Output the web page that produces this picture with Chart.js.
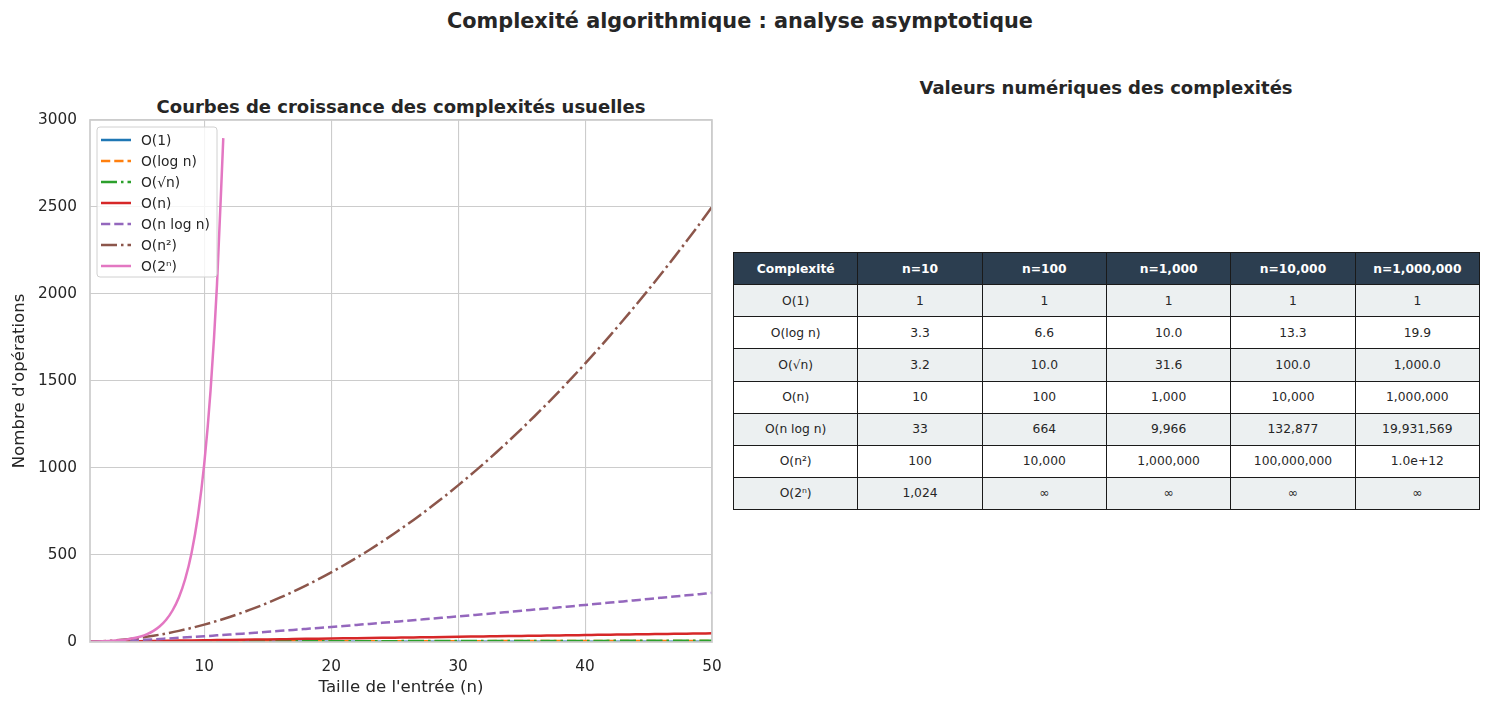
<!DOCTYPE html>
<html lang="fr">
<head>
<meta charset="utf-8">
<title>Complexité algorithmique</title>
<script src="https://cdn.jsdelivr.net/npm/chart.js@4.4.1/dist/chart.umd.min.js"></script>
<style>
  body {
    margin: 0;
    width: 1489px;
    height: 707px;
    background: #ffffff;
    font-family: "DejaVu Sans", sans-serif;
    color: #262626;
    position: relative;
    overflow: hidden;
  }
  .title {
    position: absolute;
    white-space: nowrap;
    font-weight: bold;
    transform: translate(-50%, -50%);
  }
  #main-title { left: 740px; top: 21px; font-size: 20.8px; }
  #left-title { left: 401px; top: 106px; font-size: 18px; }
  #right-title { left: 1106px; top: 87px; font-size: 18px; }
  #chart-box {
    position: absolute;
    left: 0;
    top: 0;
    width: 730px;
    height: 707px;
  }
  #table {
    position: absolute;
    left: 733px;
    top: 252px;
    width: 747px;
    height: 258px;
    border-collapse: collapse;
    table-layout: fixed;
    font-size: 12.3px;
    color: #262626;
  }
  #table th, #table td {
    border: 1.4px solid #1a1a1a;
    text-align: center;
    padding: 0;
    height: 31px;
  }
  #table th {
    background: #2c3e50;
    color: #ffffff;
    font-weight: bold;
  }
  #table tr:nth-child(even) td { background: #ecf0f1; }
  #table tr:nth-child(odd) td { background: #ffffff; }
</style>
</head>
<body>
<div id="main-title" class="title">Complexité algorithmique : analyse asymptotique</div>
<div id="left-title" class="title">Courbes de croissance des complexités usuelles</div>
<div id="right-title" class="title">Valeurs numériques des complexités</div>
<div id="chart-box"><canvas id="chart"></canvas></div>
<table id="table"></table>

<script>
// ---------------- Data ----------------
const nValues = [
  1, 2, 3, 4, 5, 6, 7, 8, 9, 10, 11, 12, 13, 14, 15, 16, 17, 18, 19, 20,
  21, 22, 23, 24, 25, 26, 27, 28, 29, 30, 31, 32, 33, 34, 35, 36, 37, 38, 39, 40,
  41, 42, 43, 44, 45, 46, 47, 48, 49, 50,
];

const constValues = [
  1, 1, 1, 1, 1, 1, 1, 1, 1, 1, 1, 1, 1, 1, 1, 1, 1, 1, 1, 1,
  1, 1, 1, 1, 1, 1, 1, 1, 1, 1, 1, 1, 1, 1, 1, 1, 1, 1, 1, 1,
  1, 1, 1, 1, 1, 1, 1, 1, 1, 1,
];

const logValues = [
  0, 1, 1.58, 2, 2.32, 2.58, 2.81, 3, 3.17, 3.32, 3.46, 3.58, 3.7, 3.81, 3.91,
  4, 4.09, 4.17, 4.25, 4.32, 4.39, 4.46, 4.52, 4.58, 4.64, 4.7, 4.75, 4.81,
  4.86, 4.91, 4.95, 5, 5.04, 5.09, 5.13, 5.17, 5.21, 5.25, 5.29, 5.32, 5.36,
  5.39, 5.43, 5.46, 5.49, 5.52, 5.55, 5.58, 5.61, 5.64,
];

const sqrtValues = [
  1, 1.41, 1.73, 2, 2.24, 2.45, 2.65, 2.83, 3, 3.16, 3.32, 3.46, 3.61, 3.74,
  3.87, 4, 4.12, 4.24, 4.36, 4.47, 4.58, 4.69, 4.8, 4.9, 5, 5.1, 5.2, 5.29,
  5.39, 5.48, 5.57, 5.66, 5.74, 5.83, 5.92, 6, 6.08, 6.16, 6.24, 6.32, 6.4,
  6.48, 6.56, 6.63, 6.71, 6.78, 6.86, 6.93, 7, 7.07,
];

const linearValues = [
  1, 2, 3, 4, 5, 6, 7, 8, 9, 10, 11, 12, 13, 14, 15, 16, 17, 18, 19, 20,
  21, 22, 23, 24, 25, 26, 27, 28, 29, 30, 31, 32, 33, 34, 35, 36, 37, 38, 39, 40,
  41, 42, 43, 44, 45, 46, 47, 48, 49, 50,
];

const nlognValues = [
  0, 2, 4.75, 8, 11.6, 15.5, 19.7, 24, 28.5, 33.2, 38.1, 43, 48.1, 53.3, 58.6,
  64, 69.5, 75.1, 80.7, 86.4, 92.2, 98.1, 104, 110, 116.1, 122.2, 128.4, 134.6,
  140.9, 147.2, 153.6, 160, 166.5, 173, 179.5, 186.1, 192.7, 199.4, 206.1,
  212.9, 219.7, 226.5, 233.3, 240.2, 247.1, 254.1, 261.1, 268.1, 275.1, 282.2,
];

const squareValues = [
  1, 4, 9, 16, 25, 36, 49, 64, 81, 100, 121, 144, 169, 196, 225, 256, 289, 324,
  361, 400, 441, 484, 529, 576, 625, 676, 729, 784, 841, 900, 961, 1024, 1089,
  1156, 1225, 1296, 1369, 1444, 1521, 1600, 1681, 1764, 1849, 1936, 2025, 2116,
  2209, 2304, 2401, 2500,
];

const expN = [
  1, 1.5, 2, 2.5, 3, 3.5, 4, 4.5, 5, 5.5, 6, 6.5, 7, 7.5, 8, 8.5, 9, 9.5,
  10, 10.5, 11, 11.5,
];
const expValues = [
  2, 2.83, 4, 5.66, 8, 11.3, 16, 22.6, 32, 45.3, 64, 90.5, 128, 181, 256, 362,
  512, 724, 1024, 1448, 2048, 2896,
];

const seriesLabels = [
  "O(1)", "O(log n)", "O(√n)", "O(n)", "O(n log n)", "O(n²)", "O(2ⁿ)",
];
const xTicks = [10, 20, 30, 40, 50];

// table
const tableHeaders = ["Complexité", "n=10", "n=100", "n=1,000", "n=10,000", "n=1,000,000"];
const tableRows = [
  ["O(1)", "1", "1", "1", "1", "1"],
  ["O(log n)", "3.3", "6.6", "10.0", "13.3", "19.9"],
  ["O(√n)", "3.2", "10.0", "31.6", "100.0", "1,000.0"],
  ["O(n)", "10", "100", "1,000", "10,000", "1,000,000"],
  ["O(n log n)", "33", "664", "9,966", "132,877", "19,931,569"],
  ["O(n²)", "100", "10,000", "1,000,000", "100,000,000", "1.0e+12"],
  ["O(2ⁿ)", "1,024", "∞", "∞", "∞", "∞"],
];

// ---------------- Chart ----------------
const toPoints = (xs, ys) => xs.map((x, i) => ({ x: x, y: ys[i] }));

const lineWidth = 2.5;
const dashed = [9.25, 4];
const dashDot = [16, 4, 2.5, 4];

const datasets = [
  { data: toPoints(nValues, constValues), borderColor: "#1f77b4", borderDash: [] },
  { data: toPoints(nValues, logValues), borderColor: "#ff7f0e", borderDash: dashed },
  { data: toPoints(nValues, sqrtValues), borderColor: "#2ca02c", borderDash: dashDot },
  { data: toPoints(nValues, linearValues), borderColor: "#d62728", borderDash: [] },
  { data: toPoints(nValues, nlognValues), borderColor: "#9467bd", borderDash: dashed },
  { data: toPoints(nValues, squareValues), borderColor: "#8c564b", borderDash: dashDot },
  { data: toPoints(expN, expValues), borderColor: "#e377c2", borderDash: [] },
].map((d, i) => ({
  ...d,
  label: seriesLabels[i],
  borderWidth: lineWidth,
  pointRadius: 0,
  fill: false,
  cubicInterpolationMode: "monotone",
  order: 6 - i, // last series on top, like the original
}));

// Legend box inside the plot + full frame
const framePlugin = {
  id: "frame",
  afterDraw(chart) {
    const { ctx, chartArea } = chart;
    ctx.save();
    ctx.strokeStyle = "#cccccc";
    ctx.lineWidth = 1.7;
    ctx.strokeRect(chartArea.left, chartArea.top,
      chartArea.right - chartArea.left, chartArea.bottom - chartArea.top);

    // legend
    const x = chartArea.left + 7;
    const y = chartArea.top + 7;
    const w = 120;
    const h = 150;
    ctx.beginPath();
    ctx.roundRect(x, y, w, h, 3);
    ctx.fillStyle = "rgba(255,255,255,0.8)";
    ctx.fill();
    ctx.lineWidth = 1;
    ctx.strokeStyle = "#d0d0d0";
    ctx.stroke();

    ctx.font = "13.8px 'DejaVu Sans'";
    ctx.textBaseline = "middle";
    chart.data.datasets.forEach((ds, i) => {
      const ly = y + 13 + i * 21;
      ctx.beginPath();
      ctx.setLineDash(ds.borderDash);
      ctx.strokeStyle = ds.borderColor;
      ctx.lineWidth = lineWidth;
      ctx.moveTo(x + 4, ly);
      ctx.lineTo(x + 34, ly);
      ctx.stroke();
      ctx.setLineDash([]);
      ctx.fillStyle = "#262626";
      ctx.fillText(ds.label, x + 44, ly + 1);
    });
    ctx.restore();
  },
};

Chart.defaults.font.family = "'DejaVu Sans', sans-serif";
Chart.defaults.color = "#262626";

new Chart(document.querySelector("#chart").getContext("2d"), {
  type: "line",
  data: { datasets: datasets },
  options: {
    responsive: true,
    maintainAspectRatio: false,
    animation: false,
    layout: { padding: { top: 120, right: 18, left: 0, bottom: 0 } },
    plugins: {
      legend: { display: false },
      tooltip: { enabled: false },
    },
    scales: {
      x: {
        type: "linear",
        min: 1,
        max: 50,
        afterBuildTicks: (scale) => {
          scale.ticks = xTicks.map((v) => ({ value: v }));
        },
        afterFit: (scale) => {
          scale.height = 65;
          scale.paddingLeft = 0;
          scale.paddingRight = 0;
        },
        grid: { color: "#cccccc", lineWidth: 1.1, drawTicks: false },
        border: { display: false },
        ticks: { font: { size: 15.3 }, padding: 16, color: "#262626" },
        title: {
          display: true,
          text: "Taille de l'entrée (n)",
          font: { size: 16.6 },
          color: "#262626",
          padding: { top: 0, bottom: 9 },
        },
      },
      y: {
        min: 0,
        max: 3000,
        afterFit: (scale) => {
          scale.width = 90;
          scale.paddingTop = 0;
          scale.paddingBottom = 0;
        },
        grid: { color: "#cccccc", lineWidth: 1.1, drawTicks: false },
        border: { display: false },
        ticks: {
          stepSize: 500,
          font: { size: 15.3 },
          padding: 13,
          color: "#262626",
          callback: (v) => String(v),
        },
        title: {
          display: true,
          text: "Nombre d'opérations",
          font: { size: 16.6 },
          color: "#262626",
          padding: { top: 10, bottom: 0 },
        },
      },
    },
  },
  plugins: [framePlugin],
});

// ---------------- Table ----------------
const table = document.querySelector("#table");
const headRow = document.createElement("tr");
tableHeaders.forEach((h) => {
  const th = document.createElement("th");
  th.textContent = h;
  headRow.appendChild(th);
});
table.appendChild(headRow);

tableRows.forEach((row) => {
  const tr = document.createElement("tr");
  row.forEach((cell) => {
    const td = document.createElement("td");
    td.textContent = cell;
    tr.appendChild(td);
  });
  table.appendChild(tr);
});
</script>
</body>
</html>
